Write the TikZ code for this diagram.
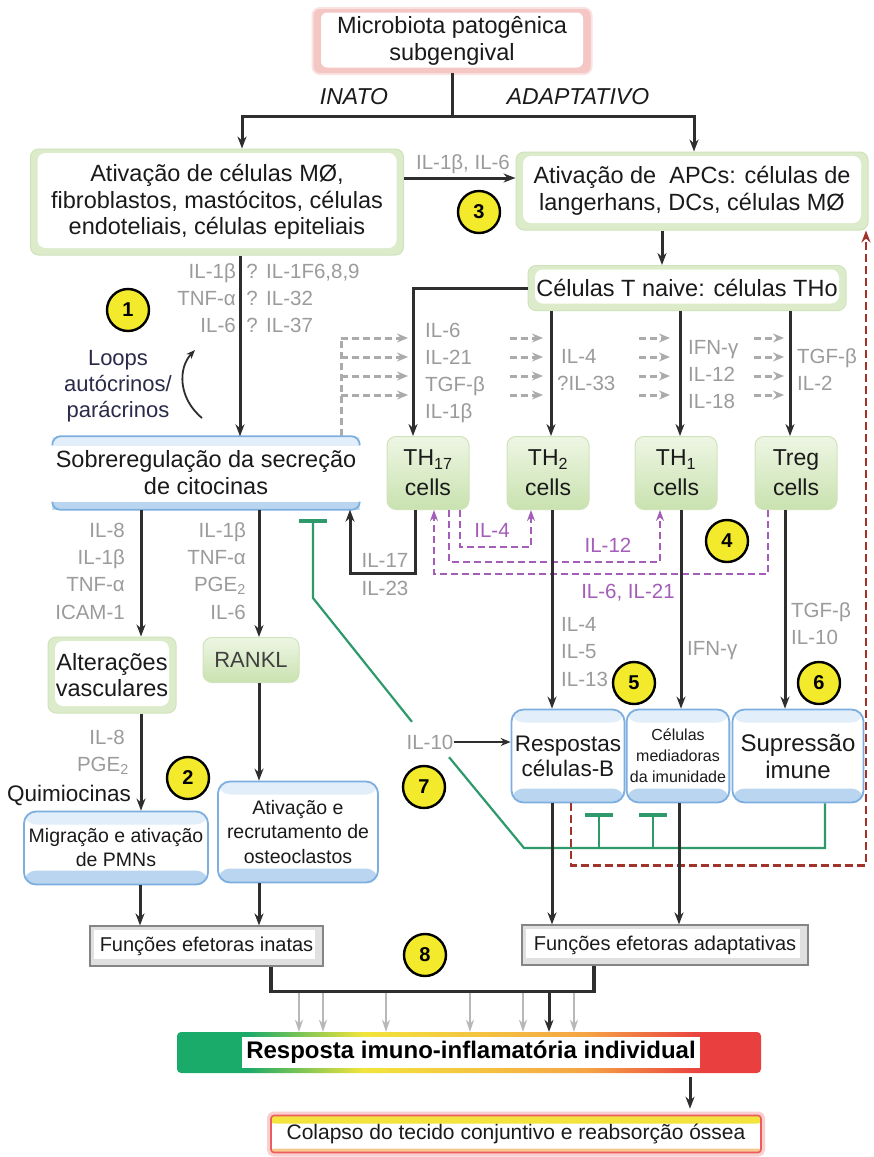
\documentclass[tikz,border=0pt]{standalone}
\usepackage{fontspec}
\setmainfont{Liberation Sans}
\usetikzlibrary{arrows.meta,calc}
\newcommand{\fsz}[2]{\fontsize{#1}{#2}\selectfont}
\definecolor{lk}{HTML}{2E2E2E}
\definecolor{txt}{HTML}{1A1A1A}
\definecolor{glab}{HTML}{9B9B9B}
\definecolor{gdsh}{HTML}{ABABAB}
\definecolor{pur}{HTML}{A45DB8}
\definecolor{grl}{HTML}{2E9A6C}
\definecolor{rdl}{HTML}{A0342A}
\definecolor{yel}{HTML}{F2EA2A}
\definecolor{bbd}{HTML}{7DAEE0}
\definecolor{btop}{HTML}{E2EEF9}
\definecolor{bbot}{HTML}{BAD5EF}
\definecolor{gbd}{HTML}{CFE3BC}
\definecolor{gshade}{HTML}{DCECCB}
\definecolor{thtop}{HTML}{EEF6E4}
\definecolor{thbot}{HTML}{C9E2AF}
\definecolor{pinkb}{HTML}{F4C6C4}
\definecolor{navy}{HTML}{2A2A4A}
\definecolor{rgreen}{HTML}{1AAA6A}
\definecolor{ryellow}{HTML}{F2E43C}
\definecolor{rorange}{HTML}{F5A444}
\definecolor{rred}{HTML}{E93F3F}
\definecolor{fgray}{HTML}{858585}
\pgfdeclarehorizontalshading{respsh}{100bp}{color(0bp)=(rgreen); color(25bp)=(rgreen); color(31bp)=(rgreen); color(41bp)=(ryellow); color(60bp)=(rorange); color(70bp)=(rred); color(75bp)=(rred); color(100bp)=(rred)}
\begin{document}
\begin{tikzpicture}[x=1pt,y=-1pt,
  every node/.style={text=txt},
  arr/.style={draw=lk, line width=3pt, -{Stealth[length=12pt,width=9pt]}},
  thinarr/.style={draw=lk, line width=2.4pt, -{Stealth[length=10pt,width=8pt]}},
  ln/.style={draw=lk, line width=3pt},
  gdash/.style={draw=gdsh, line width=3pt, dash pattern=on 7pt off 4pt, -{Stealth[length=11pt,width=9pt]}},
  gdl/.style={draw=gdsh, line width=3pt, dash pattern=on 7pt off 4pt},
  parr/.style={draw=pur, line width=2.6pt, dash pattern=on 7pt off 4pt, -{Stealth[length=11pt,width=8pt]}},
  rdash/.style={draw=rdl, line width=2.8pt, dash pattern=on 8pt off 4pt, -{Stealth[length=12pt,width=9pt]}},
  grn/.style={draw=grl, line width=2.2pt},
  tbar/.style={-{Bar[width=28pt,line width=4pt]}},
  garr/.style={draw=black!28, line width=2.4pt, -{Stealth[length=12pt,width=8pt]}},
  lab/.style={inner sep=0pt, text=glab, font=\fsz{20.5}{22}, text height=15pt, text depth=0pt},
  plab/.style={lab, text=pur},
  circ/.style={circle, draw=black, line width=2.4pt, fill=yel, minimum size=42pt, inner sep=0pt, font=\bfseries\fsz{20}{20}, text=black},
  gbox/.style={rounded corners=8pt, draw=gbd, line width=1pt, fill=gshade, align=center, font=\fsz{23.5}{26.5},
    path picture={\fill[white] ([shift={(7pt,-4pt)}]path picture bounding box.north west) rectangle ([shift={(-7pt,7pt)}]path picture bounding box.south east);}},
  thbox/.style={rounded corners=9pt, draw=gbd, line width=1pt, top color=thtop, bottom color=thbot, align=center, font=\fsz{23}{30}},
  bbox/.style={rounded corners=12pt, draw=bbd, line width=1.8pt, fill=white, align=center,
    path picture={\fill[btop] (path picture bounding box.north west) rectangle ([yshift=-13pt]path picture bounding box.north east);
      \fill[bbot] ([yshift=14pt]path picture bounding box.south west) rectangle (path picture bounding box.south east);}},
  pinkbox/.style={rounded corners=6pt, draw=pinkb, line width=1pt, fill=pinkb, align=center, font=\fsz{23.5}{27},
    preaction={draw=pinkb!50, line width=5pt},
    path picture={\fill[white] ([shift={(7pt,-3pt)}]path picture bounding box.north west) rectangle ([shift={(-7pt,5pt)}]path picture bounding box.south east);}},
  fbox/.style={draw=fgray, line width=1.2pt, fill=black!12, font=\fsz{20}{24},
    path picture={\fill[white] ([shift={(4pt,-4pt)}]path picture bounding box.north west) rectangle ([shift={(-8pt,7pt)}]path picture bounding box.south east);}},
  cobox/.style={rounded corners=3pt, draw=rred!85, line width=1.6pt, fill=white, font=\fsz{21}{24},
    preaction={draw=rred!25, line width=8pt},
    path picture={\fill[ryellow] (path picture bounding box.north west) rectangle ([yshift=-8pt]path picture bounding box.north east);
      \fill[rorange!60] ([yshift=4pt]path picture bounding box.south west) rectangle (path picture bounding box.south east);}}
]
\useasboundingbox[fill=white] (0,0) rectangle (874,1157);

% ---------- top ----------
\node[pinkbox, minimum width=276pt, minimum height=63pt] (top) at (452,41) {Microbiota patogênica\\subgengival};
\node[inner sep=0pt, font=\itshape\fsz{23}{23}] (inato) at (354,97) {INATO};
\node[inner sep=0pt, font=\itshape\fsz{23}{23}] (adapt) at (578,97) {ADAPTATIVO};
\node[gbox, minimum width=373pt, minimum height=106pt] (A) at (217,202) {Ativação de células MØ,\\fibroblastos, mastócitos, células\\endoteliais, células epiteliais};
\node[gbox, minimum width=352pt, minimum height=78pt] (B) at (692,191) {Ativação de\ \ APCs: células de\\langerhans, DCs, células MØ};
\coordinate (split) at (452,116);
\draw[ln] (top.south) -- (split);
\draw[arr] (split) -| ([xshift=25pt]A.north);
\draw[arr] (split) -| ([xshift=2pt]B.north);
\draw[arr] ([yshift=24pt]A.east) -- ([yshift=24pt]A.east -| B.west);
\node[lab] (l36) at (463,162) {IL-1β, IL-6};
\node[circ] (n3) at (479,212) {3};

% ---------- T naive ----------
\node[gbox, minimum width=318pt, minimum height=45pt] (C) at (687,288) {Células T naive: células THo};
\draw[arr] ([xshift=-30pt]B.south) -- ([xshift=-30pt]B.south |- C.north);

\node[thbox, minimum width=82pt, minimum height=73pt] (T17) at (428,473) {TH\textsubscript{17}\\cells};
\node[thbox, minimum width=82pt, minimum height=73pt] (T2) at (548,473) {TH\textsubscript{2}\\cells};
\node[thbox, minimum width=82pt, minimum height=73pt] (T1) at (676,473) {TH\textsubscript{1}\\cells};
\node[thbox, minimum width=82pt, minimum height=73pt] (Treg) at (796,473) {Treg\\cells};

\draw[arr] (C.west) -| ([xshift=-15pt]T17.north);
\draw[arr] ([xshift=3pt]T2.north |- C.south) -- ([xshift=3pt]T2.north);
\draw[arr] ([xshift=4pt]T1.north |- C.south) -- ([xshift=4pt]T1.north);
\draw[arr] ([xshift=-6pt]Treg.north |- C.south) -- ([xshift=-6pt]Treg.north);

% labels of T differentiation
\foreach \t/\yy [count=\i] in {IL-6/330,IL-21/357,TGF-β/384,IL-1β/411}
  \node[lab, anchor=west] (t17l\i) at (425,\yy) {\t};
\node[lab, anchor=west] (t2l1) at (561,356) {IL-4};
\node[lab, anchor=west] (t2l2) at (557,383) {?IL-33};
\node[lab, anchor=west] (t1l1) at (688,347) {IFN-γ};
\node[lab, anchor=west] (t1l2) at (688,374) {IL-12};
\node[lab, anchor=west] (t1l3) at (688,401) {IL-18};
\node[lab, anchor=west] (trl1) at (797,356) {TGF-β};
\node[lab, anchor=west] (trl2) at (797,383) {IL-2};

% ---------- Sobreregulacao ----------
\node[align=center, font=\fsz{23.5}{27}, minimum width=307pt, minimum height=73pt, fill=white,
  path picture={\fill[btop] (path picture bounding box.north west) rectangle ([yshift=-9pt]path picture bounding box.north east);
      \fill[bbot] ([yshift=8pt]path picture bounding box.south west) rectangle (path picture bounding box.south east);}] (S) at (206,473) {Sobreregulação da secreção\\de citocinas};
\draw[bbd, line width=1.8pt] ([yshift=-9pt]S.north west) to[out=90,in=180] ([xshift=8pt]S.north west) -- ([xshift=-8pt]S.north east) to[out=0,in=90] ([yshift=-9pt]S.north east);
\draw[bbd, line width=1.8pt] ([yshift=8pt]S.south west) to[out=-90,in=180] ([xshift=8pt]S.south west) -- ([xshift=-8pt]S.south east) to[out=0,in=-90] ([yshift=8pt]S.south east);

\draw[arr] ([xshift=23pt]A.south) -- ([xshift=23pt]A.south |- S.north);
\node[lab, anchor=east] (la1) at (236,271) {IL-1β};
\node[lab] (lq1) at (252,271) {?};
\node[lab, anchor=west] (lb1) at (266,271) {IL-1F6,8,9};
\node[lab, anchor=east] (la2) at (236,298) {TNF-α};
\node[lab] (lq2) at (252,298) {?};
\node[lab, anchor=west] (lb2) at (266,298) {IL-32};
\node[lab, anchor=east] (la3) at (236,325) {IL-6};
\node[lab] (lq3) at (252,325) {?};
\node[lab, anchor=west] (lb3) at (266,325) {IL-37};

\node[circ] (n1) at (128,310) {1};
\node[align=center, text=navy, font=\fsz{22}{26}, inner sep=0pt] (loops) at (118,386) {Loops\\autócrinos/\\parácrinos};
\coordinate (cv1) at (202,418);
\coordinate (cv2) at (195,350);
\draw[draw=lk, line width=1.8pt, -{Stealth[length=9pt,width=7pt]}] (cv1) .. controls (178,398) and (178,368) .. (cv2);

% gray dashed arrows into TH cells
\draw[gdl] ([xshift=135pt]S.north) -- ++(0,-99);
\foreach \yy [count=\i] in {338,357,376,395} {
  \coordinate (ga\i) at (341,\yy); \coordinate (gb\i) at (408,\yy);
  \draw[gdash] (ga\i) -- (gb\i);
  \coordinate (ha\i) at (510,\yy); \coordinate (hb\i) at (543,\yy);
  \draw[gdash] (ha\i) -- (hb\i);
  \coordinate (ia\i) at (639,\yy); \coordinate (ib\i) at (670,\yy);
  \draw[gdash] (ia\i) -- (ib\i);
  \coordinate (ja\i) at (754,\yy); \coordinate (jb\i) at (784,\yy);
  \draw[gdash] (ja\i) -- (jb\i);
}

% IL-17 / IL-23 feedback
\draw[arr] ([xshift=-13pt]T17.south) -- ++(0,63) -| ([xshift=144pt]S.south);
\node[lab] (l17) at (385,560) {IL-17};
\node[lab] (l23) at (385,588) {IL-23};

% purple loops
\draw[parr] ([xshift=-28pt]Treg.south) -- ++(0,64) -| ([xshift=6pt]T17.south);
\draw[parr] ([xshift=21pt]T17.south) -- ++(0,52) -| ([xshift=-16pt]T1.south);
\draw[parr] ([xshift=32pt]T17.south) -- ++(0,37) -| ([xshift=-17pt]T2.south);
\node[plab] (p4) at (492,530) {IL-4};
\node[plab] (p12) at (608,545) {IL-12};
\node[plab] (p621) at (628,591) {IL-6, IL-21};
\node[circ] (n4) at (727,541) {4};

% ---------- effector boxes ----------
\node[bbox, minimum width=109pt, minimum height=93pt, font=\fsz{22.5}{25}] (R) at (568,756) {Respostas\\células-B};
\node[bbox, minimum width=98pt, minimum height=93pt, font=\fsz{16}{21}] (M) at (678,756) {Células\\mediadoras\\da imunidade};
\node[bbox, minimum width=131pt, minimum height=93pt, font=\fsz{24}{27}] (Sup) at (798,756) {Supressão\\imune};

\draw[arr] ([xshift=4pt]T2.south) -- ([xshift=4pt]T2.south |- R.north);
\draw[arr] ([xshift=5pt]T1.south) -- ([xshift=5pt]T1.south |- M.north);
\draw[arr] ([xshift=-11pt]Treg.south) -- ([xshift=-11pt]Treg.south |- Sup.north);
\node[lab, anchor=west] (r1) at (561,624) {IL-4};
\node[lab, anchor=west] (r2) at (561,651) {IL-5};
\node[lab, anchor=west] (r3) at (561,679) {IL-13};
\node[lab, anchor=west] (m1) at (687,648) {IFN-γ};
\node[lab, anchor=west] (s1) at (791,610) {TGF-β};
\node[lab, anchor=west] (s2) at (791,637) {IL-10};
\node[circ] (n5) at (634,683) {5};
\node[circ] (n6) at (819,683) {6};

\node[lab] (il10) at (430,742) {IL-10};
\draw[thinarr] (il10.east) -- (il10.east -| R.west);
\node[circ] (n7) at (424,787) {7};

% green inhibition
\coordinate (gc) at (524,848);
\coordinate (gk) at (313,598);
\draw[grn] ([xshift=27pt]Sup.south) |- (gc) -- ([shift={(-4.5pt,-7.5pt)}]il10.south east);
\draw[grn, tbar] ([shift={(5.5pt,12.5pt)}]il10.north west) -- (gk) -- ([shift={(107pt,-9pt)}]S.south);
\draw[grn, tbar] ([shift={(31pt,-45pt)}]R.south) -- ([shift={(31pt,-10pt)}]R.south);
\draw[grn, tbar] ([shift={(-25pt,-45pt)}]M.south) -- ([shift={(-25pt,-10pt)}]M.south);

% red dashed feedback
\draw[rdash] ([xshift=3pt]R.south) -- ++(0,62) -| ([xshift=174pt]B.south);

% ---------- innate branch ----------
\node[gbox, minimum width=128pt, minimum height=76pt] (Alt) at (112,675) {Alterações\\vasculares};
\node[thbox, minimum width=96pt, minimum height=45pt, font=\fsz{22}{22}, text=black!75] (RANKL) at (251,660) {RANKL};
\draw[arr] ([xshift=-65pt]S.south) -- ([xshift=-65pt]S.south |- Alt.north);
\draw[arr] ([xshift=53pt]S.south) -- ([xshift=53pt]S.south |- RANKL.north);
\foreach \t/\yy [count=\i] in {IL-8/530,IL-1β/557,TNF-α/584,ICAM-1/612}
  \node[lab, anchor=east] (va\i) at (125,\yy) {\t};
\foreach \t/\yy [count=\i] in {IL-1β/530,TNF-α/557,PGE\textsubscript{2}/584,IL-6/612}
  \node[lab, anchor=east] (vb\i) at (246,\yy) {\t};

\node[bbox, minimum width=184pt, minimum height=73pt, font=\fsz{19.5}{24}] (Mig) at (116,848) {Migração e ativação\\de PMNs};
\node[bbox, minimum width=160pt, minimum height=101pt, font=\fsz{19.5}{24.5}] (Atv) at (298,832) {Ativação e\\recrutamento de\\osteoclastos};
\draw[arr] ([xshift=29pt]Alt.south) -- ([xshift=29pt]Alt.south |- Mig.north);
\draw[arr] ([xshift=8pt]RANKL.south) -- ([xshift=8pt]RANKL.south |- Atv.north);
\node[lab, anchor=east] (q1) at (125,737) {IL-8};
\node[lab, anchor=east] (q2) at (129,764) {PGE\textsubscript{2}};
\node[inner sep=0pt, anchor=east, font=\fsz{22.5}{22.5}, text height=16pt, text depth=0pt] (q3) at (131,793) {Quimiocinas};
\node[circ] (n2) at (188,778) {2};

% ---------- bottom ----------
\node[fbox, minimum width=233pt, minimum height=40pt] (FI) at (206.5,946) {Funções efetoras inatas};
\node[fbox, minimum width=286pt, minimum height=40pt] (FA) at (665,945) {Funções efetoras adaptativas};
\draw[arr] ([xshift=24pt]Mig.south) -- ([xshift=24pt]Mig.south |- FI.north);
\draw[arr] ([xshift=-39pt]Atv.south) -- ([xshift=-39pt]Atv.south |- FI.north);
\draw[arr] ([xshift=-16pt]R.south) -- ([xshift=-16pt]R.south |- FA.north);
\draw[arr] ([xshift=1pt]M.south) -- ([xshift=1pt]M.south |- FA.north);
\node[circ] (n8) at (425,955) {8};

\node[rounded corners=4pt, shade, shading=respsh, minimum width=584pt, minimum height=41pt] (RB) at (469,1052.5) {};
\node[fill=white, minimum width=458pt, minimum height=31pt, inner sep=0pt, font=\bfseries\fsz{24}{24}, text=black] (RBt) at (471,1052.5) {Resposta imuno-inflamatória individual};

\draw[ln, line width=3.6pt] ([xshift=64.5pt]FI.south) |- ([xshift=-71pt,yshift=-26pt]FA.south) -- ([xshift=-71pt]FA.south);
\foreach \dx in {-170,-146,-83,1,54,105}
  \draw[garr] ([xshift=\dx pt,yshift=39pt]RB.north) -- ([xshift=\dx pt]RB.north);
\draw[arr] ([xshift=80pt,yshift=39pt]RB.north) -- ([xshift=80pt]RB.north);

\node[cobox, minimum width=490pt, minimum height=37pt] (CO) at (516,1134) {Colapso do tecido conjuntivo e reabsorção óssea};
\draw[arr] ([xshift=221pt,yshift=-4pt]RB.south) -- ([xshift=221pt,yshift=6pt]RB.south |- CO.north);
\end{tikzpicture}
\end{document}
